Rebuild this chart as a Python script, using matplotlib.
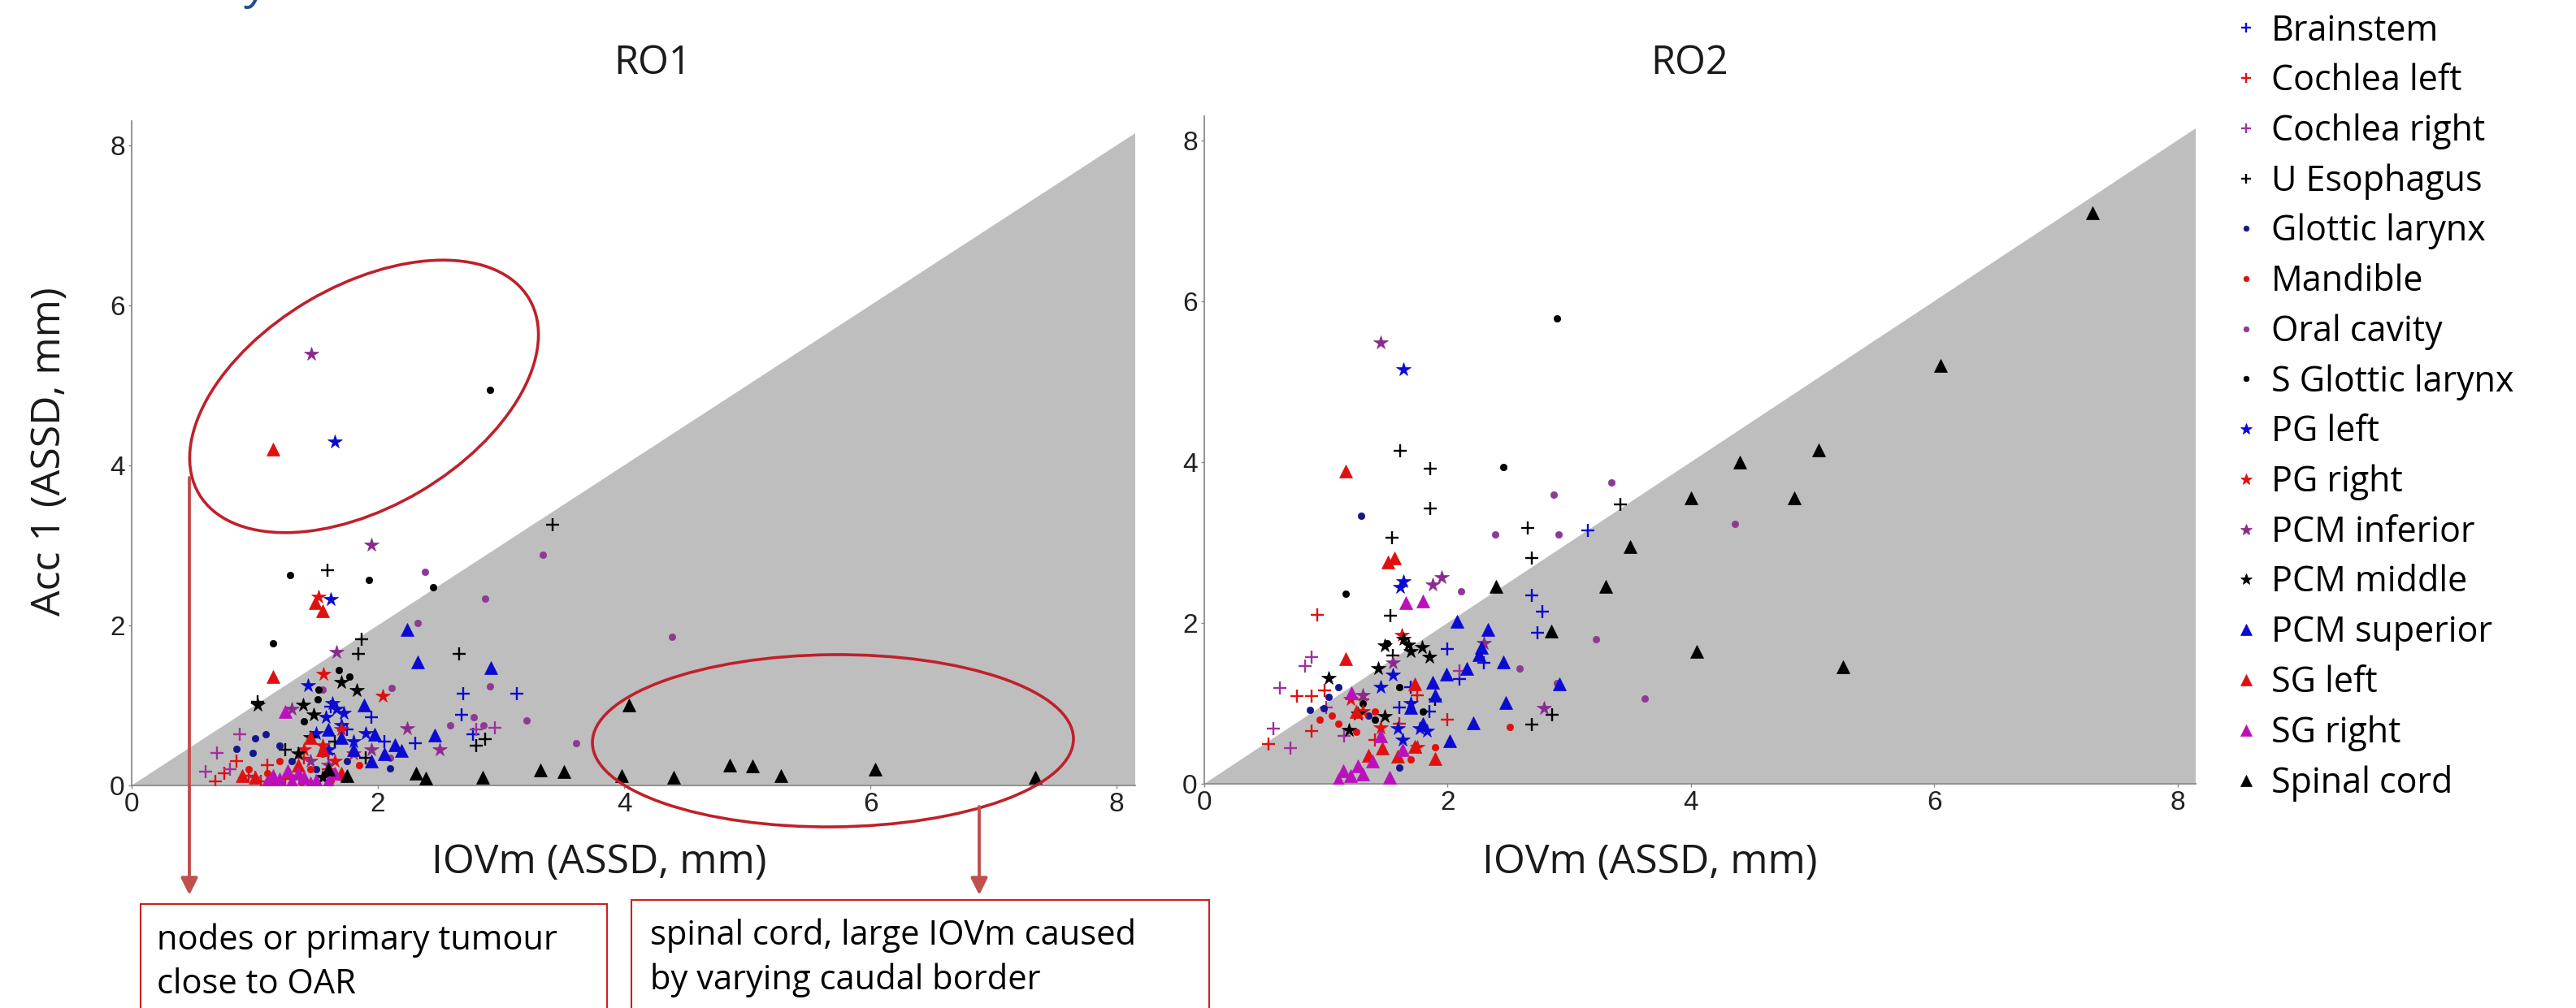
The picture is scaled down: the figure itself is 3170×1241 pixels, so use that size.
import matplotlib
matplotlib.use("Agg")
import matplotlib.pyplot as plt
from matplotlib.patches import Ellipse, Rectangle, FancyArrowPatch

# ---------------- data ----------------
categories = ["Brainstem", "Cochlea left", "Cochlea right", "U Esophagus",
              "Glottic larynx", "Mandible", "Oral cavity", "S Glottic larynx",
              "PG left", "PG right", "PCM inferior", "PCM middle",
              "PCM superior", "SG left", "SG right", "Spinal cord"]

# RO1 : (IOVm, Acc1)
ro1_brainstem_x = [2.69, 3.13, 2.68, 2.77, 2.30, 1.62, 1.95, 1.60, 2.05, 1.75, 1.48]
ro1_brainstem_y = [1.15, 1.15, 0.88, 0.64, 0.53, 0.98, 0.85, 0.40, 0.55, 0.70, 0.60]
ro1_cochl_x = [0.75, 0.95, 1.10, 1.25, 0.85, 1.40, 1.05, 1.60, 0.68]
ro1_cochl_y = [0.15, 0.12, 0.25, 0.08, 0.30, 0.35, 0.05, 0.20, 0.05]
ro1_cochr_x = [0.88, 0.69, 0.60, 0.80, 1.00, 2.80, 2.95]
ro1_cochr_y = [0.64, 0.41, 0.17, 0.20, 0.10, 0.70, 0.72]
ro1_uesoph_x = [1.59, 1.87, 1.84, 2.66, 3.42, 2.87, 1.02, 1.25, 1.90, 1.65, 2.80]
ro1_uesoph_y = [2.69, 1.83, 1.64, 1.64, 3.26, 0.58, 1.05, 0.45, 0.35, 0.55, 0.50]
ro1_glot_x = [1.00, 1.09, 0.85, 0.98, 2.10, 1.30, 1.50, 1.20, 1.75]
ro1_glot_y = [0.59, 0.64, 0.46, 0.41, 0.21, 0.30, 0.20, 0.50, 0.30]
ro1_mand_x = [1.10, 1.30, 1.45, 0.95, 1.70, 1.55, 1.20, 1.85, 1.00, 1.15, 1.38, 1.62]
ro1_mand_y = [0.15, 0.10, 0.20, 0.20, 0.10, 0.40, 0.30, 0.25, 0.08, 0.05, 0.04, 0.06]
ro1_oral_x = [2.38, 2.87, 3.34, 2.32, 2.11, 2.91, 2.59, 2.78, 2.86, 3.21, 3.61, 4.39, 1.55, 2.10]
ro1_oral_y = [2.67, 2.33, 2.88, 2.03, 1.22, 1.24, 0.75, 0.85, 0.75, 0.81, 0.53, 1.86, 1.20, 0.35]
ro1_sglot_x = [2.91, 1.29, 1.93, 2.45, 1.15, 1.68, 1.77, 1.52, 1.51, 1.40]
ro1_sglot_y = [4.94, 2.63, 2.57, 2.48, 1.78, 1.44, 1.36, 1.20, 1.08, 0.80]
ro1_pgl_x = [1.65, 1.62, 1.43, 1.63, 1.66, 1.58, 1.70, 1.50, 1.80, 1.60, 1.90, 1.72]
ro1_pgl_y = [4.29, 2.32, 1.25, 1.02, 0.95, 0.85, 0.75, 0.65, 0.55, 0.45, 0.65, 0.90]
ro1_pgr_x = [1.52, 1.56, 2.04, 1.70, 1.55, 1.40, 1.80, 1.65]
ro1_pgr_y = [2.35, 1.39, 1.12, 0.70, 0.50, 0.45, 0.40, 0.30]
ro1_pcmi_x = [1.46, 1.95, 1.66, 2.24, 1.30, 1.45, 1.60, 1.95, 2.50]
ro1_pcmi_y = [5.39, 3.00, 1.66, 0.71, 0.95, 0.30, 0.25, 0.45, 0.45]
ro1_pcmm_x = [1.70, 1.83, 1.39, 1.48, 1.02, 1.45, 1.35, 1.55]
ro1_pcmm_y = [1.29, 1.19, 1.00, 0.88, 1.00, 0.60, 0.40, 0.10]
ro1_pcms_x = [2.24, 2.32, 2.92, 1.89, 2.46, 1.97, 2.14, 2.19, 1.70, 1.80, 2.05, 1.60, 1.95]
ro1_pcms_y = [1.95, 1.54, 1.47, 1.00, 0.63, 0.64, 0.51, 0.44, 0.60, 0.45, 0.40, 0.70, 0.30]
ro1_sgl_x = [1.15, 1.49, 1.55, 1.15, 1.55, 1.35, 1.00, 1.70, 1.45, 0.90]
ro1_sgl_y = [4.20, 2.28, 2.18, 1.36, 0.45, 0.25, 0.10, 0.15, 0.60, 0.12]
ro1_sgr_x = [1.25, 1.10, 1.20, 1.30, 1.40, 1.50, 1.65, 1.60, 1.35, 1.15, 1.27, 1.45]
ro1_sgr_y = [0.92, 0.05, 0.08, 0.05, 0.10, 0.06, 0.15, 0.05, 0.15, 0.12, 0.18, 0.03]
ro1_spinal_x = [4.04, 2.31, 2.39, 2.85, 3.32, 3.51, 3.98, 4.40, 4.86, 5.04, 5.27, 6.04, 7.34, 1.75, 1.60]
ro1_spinal_y = [1.00, 0.15, 0.09, 0.10, 0.19, 0.17, 0.12, 0.10, 0.25, 0.24, 0.12, 0.20, 0.10, 0.12, 0.20]

# RO2
ro2_brainstem_x = [3.15, 2.69, 2.78, 2.74, 2.00, 1.70, 2.10, 1.85, 2.30, 1.60]
ro2_brainstem_y = [3.15, 2.34, 2.14, 1.88, 1.68, 1.20, 1.30, 0.90, 1.50, 0.95]
ro2_cochl_x = [0.93, 0.88, 0.99, 0.76, 0.88, 0.53, 1.30, 1.60, 1.40, 2.00, 1.75]
ro2_cochl_y = [2.10, 0.66, 1.16, 1.09, 1.09, 0.49, 1.05, 0.75, 0.55, 0.80, 1.10]
ro2_cochr_x = [0.88, 0.83, 0.62, 0.71, 0.57, 1.00, 1.15, 2.10]
ro2_cochr_y = [1.58, 1.46, 1.19, 0.44, 0.69, 0.95, 0.60, 1.40]
ro2_uesoph_x = [1.61, 1.86, 1.86, 3.42, 1.54, 2.66, 2.69, 1.53, 2.69, 2.86, 1.55, 1.90]
ro2_uesoph_y = [4.14, 3.92, 3.42, 3.47, 3.06, 3.18, 2.81, 2.09, 0.74, 0.86, 1.60, 1.05]
ro2_glot_x = [1.29, 0.87, 1.02, 0.98, 1.10, 1.35, 1.60]
ro2_glot_y = [3.33, 0.92, 1.08, 0.94, 1.20, 0.85, 0.20]
ro2_mand_x = [2.51, 0.95, 1.05, 1.10, 1.25, 1.40, 1.70, 1.90]
ro2_mand_y = [0.71, 0.80, 0.85, 0.75, 0.65, 0.90, 0.30, 0.45]
ro2_oral_x = [3.35, 2.87, 2.39, 2.91, 2.11, 3.22, 2.59, 3.62, 4.36, 2.90]
ro2_oral_y = [3.75, 3.59, 3.10, 3.10, 2.39, 1.80, 1.43, 1.06, 3.23, 1.25]
ro2_sglot_x = [2.90, 2.46, 1.16, 1.50, 1.40, 1.30, 1.60, 1.80]
ro2_sglot_y = [5.79, 3.94, 2.36, 1.75, 0.80, 1.00, 1.20, 0.90]
ro2_pgl_x = [1.64, 1.61, 1.64, 1.59, 1.77, 1.83, 1.63, 1.45, 1.55, 1.70]
ro2_pgl_y = [5.15, 2.44, 2.51, 0.69, 0.69, 0.66, 0.55, 1.20, 1.35, 1.00]
ro2_pgr_x = [1.62, 1.30, 1.45, 1.20, 1.75]
ro2_pgr_y = [1.85, 0.90, 0.70, 1.05, 0.45]
ro2_pcmi_x = [1.45, 1.95, 1.88, 2.79, 2.30, 1.30, 1.55]
ro2_pcmi_y = [5.48, 2.56, 2.47, 0.94, 1.75, 1.10, 1.50]
ro2_pcmm_x = [1.64, 1.68, 1.48, 1.79, 1.85, 1.02, 1.19, 1.26, 1.48, 1.43, 1.70]
ro2_pcmm_y = [1.80, 1.73, 1.72, 1.70, 1.58, 1.31, 0.67, 0.87, 0.84, 1.43, 1.65]
ro2_pcms_x = [2.08, 2.33, 2.28, 2.26, 2.46, 2.16, 1.99, 1.88, 2.21, 2.02, 2.48, 2.92, 1.70, 1.80, 1.90]
ro2_pcms_y = [2.02, 1.92, 1.70, 1.61, 1.51, 1.43, 1.36, 1.26, 0.76, 0.54, 1.01, 1.24, 0.95, 0.75, 1.10]
ro2_sgl_x = [1.16, 1.51, 1.56, 1.16, 1.73, 1.46, 1.59, 1.73, 1.90, 1.35, 1.25]
ro2_sgl_y = [3.89, 2.76, 2.81, 1.55, 1.24, 0.44, 0.34, 0.46, 0.31, 0.35, 0.90]
ro2_sgr_x = [1.80, 1.66, 1.14, 1.26, 1.52, 1.21, 1.63, 1.20, 1.30, 1.45, 1.10, 1.38]
ro2_sgr_y = [2.27, 2.25, 0.16, 0.22, 0.08, 1.13, 0.42, 0.10, 0.12, 0.60, 0.05, 0.28]
ro2_spinal_x = [7.30, 6.05, 5.05, 4.40, 4.85, 4.00, 3.50, 3.30, 2.40, 2.85, 4.05, 5.25]
ro2_spinal_y = [7.10, 5.20, 4.15, 4.00, 3.55, 3.55, 2.95, 2.45, 2.45, 1.90, 1.65, 1.45]

x_ticks = [0, 2, 4, 6, 8]
y_ticks = [0, 2, 4, 6, 8]
panel_titles = ["RO1", "RO2"]
x_label = "IOVm (ASSD, mm)"
y_label = "Acc 1 (ASSD, mm)"
note_left = "nodes or primary tumour\nclose to OAR"
note_right = "spinal cord, large IOVm caused\nby varying caudal border"

# ---------------- styles ----------------
BLUE = "#0A0AD2"
RED = "#E01010"
PURP = "#A0309F"
MAG = "#BB10BB"
BLK = "#000000"
styles = [
    ("+", BLUE, 11), ("+", RED, 11), ("+", PURP, 11), ("+", BLK, 11),
    ("o", "#15158C", 6), ("o", RED, 6), ("o", "#8E3A94", 6), ("o", BLK, 6),
    ("*", BLUE, 13), ("*", RED, 13), ("*", "#8A2A8E", 13), ("*", BLK, 13),
    ("^", BLUE, 12), ("^", RED, 12), ("^", MAG, 12), ("^", BLK, 12),
]
ro1 = [(ro1_brainstem_x, ro1_brainstem_y), (ro1_cochl_x, ro1_cochl_y), (ro1_cochr_x, ro1_cochr_y),
       (ro1_uesoph_x, ro1_uesoph_y), (ro1_glot_x, ro1_glot_y), (ro1_mand_x, ro1_mand_y),
       (ro1_oral_x, ro1_oral_y), (ro1_sglot_x, ro1_sglot_y), (ro1_pgl_x, ro1_pgl_y),
       (ro1_pgr_x, ro1_pgr_y), (ro1_pcmi_x, ro1_pcmi_y), (ro1_pcmm_x, ro1_pcmm_y),
       (ro1_pcms_x, ro1_pcms_y), (ro1_sgl_x, ro1_sgl_y), (ro1_sgr_x, ro1_sgr_y),
       (ro1_spinal_x, ro1_spinal_y)]
ro2 = [(ro2_brainstem_x, ro2_brainstem_y), (ro2_cochl_x, ro2_cochl_y), (ro2_cochr_x, ro2_cochr_y),
       (ro2_uesoph_x, ro2_uesoph_y), (ro2_glot_x, ro2_glot_y), (ro2_mand_x, ro2_mand_y),
       (ro2_oral_x, ro2_oral_y), (ro2_sglot_x, ro2_sglot_y), (ro2_pgl_x, ro2_pgl_y),
       (ro2_pgr_x, ro2_pgr_y), (ro2_pcmi_x, ro2_pcmi_y), (ro2_pcmm_x, ro2_pcmm_y),
       (ro2_pcms_x, ro2_pcms_y), (ro2_sgl_x, ro2_sgl_y), (ro2_sgr_x, ro2_sgr_y),
       (ro2_spinal_x, ro2_spinal_y)]

W, H = 3170, 1241
DPI = 100
fig = plt.figure(figsize=(W / DPI, H / DPI), dpi=DPI)
fig.patch.set_facecolor("white")

LAB_FONT = ["Open Sans", "DejaVu Sans"]
TICK_FONT = ["Liberation Sans Narrow", "Liberation Sans", "DejaVu Sans"]
LIM = 8.15


def px_rect(x0, x1, ytop, ybot):
    return [x0 / W, 1 - ybot / H, (x1 - x0) / W, (ybot - ytop) / H]


axes_px = [(162, 1397, 149, 967), (1482, 2702, 143, 965)]
title_x = [803, 2079]
xlabel_x = [737, 2030]
handles = []
for k, (data, rect) in enumerate(zip([ro1, ro2], axes_px)):
    ax = fig.add_axes(px_rect(*rect))
    ax.set_xlim(0, LIM)
    ax.set_ylim(0, 8.3)
    ax.fill([0, LIM, LIM], [0, 0, LIM], color="#BEBEBE", lw=0, zorder=0)
    for (xs, ys), (mk, col, ms) in zip(data, styles):
        mew = 1.7 if mk == "+" else 0.5
        h, = ax.plot(xs, ys, ls="none", marker=mk, ms=ms, color=col, mec=col,
                     mew=mew, zorder=3)
        if k == 0:
            handles.append(h)
    for s in ["top", "right"]:
        ax.spines[s].set_visible(False)
    for s in ["left", "bottom"]:
        ax.spines[s].set_color("#8A8A8A")
        ax.spines[s].set_linewidth(1.3)
    ax.set_xticks(x_ticks)
    ax.set_yticks(y_ticks)
    ax.tick_params(direction="out", length=3, width=1, color="#8A8A8A",
                   labelsize=24, pad=3)
    for lab in ax.get_xticklabels() + ax.get_yticklabels():
        lab.set_family(TICK_FONT)
        lab.set_color("#222222")
    ax.set_facecolor("none")
    fig.text(title_x[k] / W, 1 - 78 / H, panel_titles[k], ha="center", va="center",
             fontsize=35, family=LAB_FONT, color="#1a1a1a")
    fig.text(xlabel_x[k] / W, 1 - 1062 / H, x_label, ha="center", va="center",
             fontsize=36, family=LAB_FONT, color="#1a1a1a")

fig.text(61 / W, 1 - 556 / H, y_label, ha="center", va="center", rotation=90,
         fontsize=36, family=LAB_FONT, color="#1a1a1a")

# legend
fig.legend(handles=handles, labels=categories, loc="upper left",
           bbox_to_anchor=(2750 / W, 1 - 16 / H), frameon=False,
           prop={"family": LAB_FONT, "size": 31}, handlelength=0.65,
           handletextpad=0.4, labelspacing=0.40, borderaxespad=0, borderpad=0,
           markerscale=0.8)

# annotations (figure pixel coordinates -> inches)
def P(x, y):
    return (x / DPI, (H - y) / DPI)

tr = fig.dpi_scale_trans
EC = "#C0202A"
fig.add_artist(Ellipse(P(448, 488), 472 / DPI, 272 / DPI, angle=30.6, fill=False,
                       ec=EC, lw=2.6, transform=tr, zorder=5))
fig.add_artist(Ellipse(P(1025, 912), 592 / DPI, 212 / DPI, angle=0.5, fill=False,
                       ec=EC, lw=2.6, transform=tr, zorder=5))
ARC = "#C0504D"
for (x, y0, y1) in [(233, 588, 1102), (1205, 993, 1102)]:
    fig.add_artist(FancyArrowPatch(P(x, y0), P(x, y1), transform=tr,
                                   arrowstyle="-|>,head_length=1.25,head_width=0.62",
                                   mutation_scale=10, color=ARC, lw=2.8,
                                   shrinkA=0, shrinkB=0, zorder=5))
BC = "#D02020"
fig.add_artist(Rectangle(P(173, 1260), (747 - 173) / DPI, (1260 - 1113) / DPI,
                         fill=False, ec=BC, lw=1.5, transform=tr, zorder=5))
fig.add_artist(Rectangle(P(777, 1260), (1488 - 777) / DPI, (1260 - 1108) / DPI,
                         fill=False, ec=BC, lw=1.5, transform=tr, zorder=5))
fig.text(193 / W, 1 - 1223 / H, note_left, ha="left", va="baseline",
         fontsize=30, family=LAB_FONT, linespacing=1.39, color="black")
fig.text(800 / W, 1 - 1218 / H, note_right, ha="left", va="baseline",
         fontsize=30, family=LAB_FONT, linespacing=1.39, color="black")

# cut-off title fragment at the very top
fig.text(318 / W, 1 + 3 / H, "y", ha="center", va="baseline", fontsize=40,
         family=LAB_FONT, color="#1F4E8C", style="italic")

fig.savefig("out.png", dpi=DPI, facecolor="white")
